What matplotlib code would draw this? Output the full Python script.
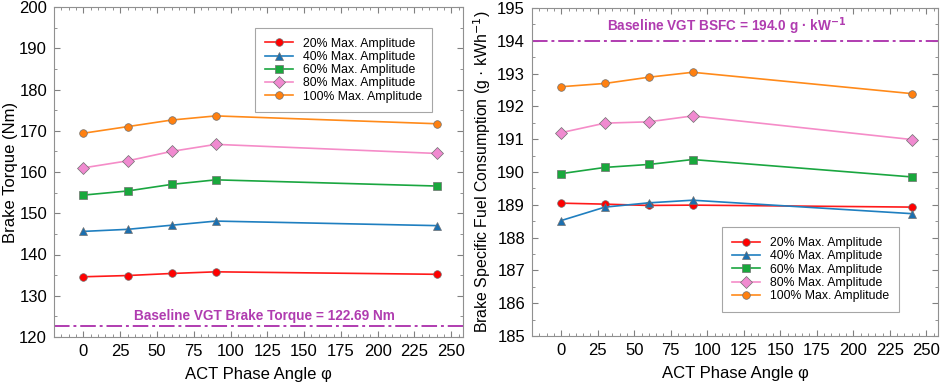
import matplotlib
matplotlib.use('Agg')
import matplotlib.pyplot as plt
from matplotlib.ticker import MultipleLocator

plt.rcParams['font.family'] = ['Liberation Sans', 'DejaVu Sans']

# data
phase = [0, 30, 60, 90, 240]
labels = ['20% Max. Amplitude', '40% Max. Amplitude', '60% Max. Amplitude',
          '80% Max. Amplitude', '100% Max. Amplitude']
torque_20 = [134.6, 134.9, 135.4, 135.8, 135.2]
torque_40 = [145.6, 146.1, 147.1, 148.1, 147.0]
torque_60 = [154.4, 155.4, 157.0, 158.1, 156.6]
torque_80 = [161.0, 162.7, 165.0, 166.7, 164.5]
torque_100 = [169.4, 171.0, 172.6, 173.6, 171.7]
bsfc_20 = [189.05, 189.02, 188.98, 188.99, 188.93]
bsfc_40 = [188.52, 188.93, 189.06, 189.14, 188.73]
bsfc_60 = [189.95, 190.14, 190.23, 190.38, 189.85]
bsfc_80 = [191.20, 191.49, 191.53, 191.71, 190.99]
bsfc_100 = [192.60, 192.70, 192.89, 193.04, 192.39]
baseline_torque = 122.69
baseline_bsfc = 194.0

colors = ['#ff1a1a', '#1f7fc0', '#1aa640', '#f58cc8', '#ff8a1a']
mfaces = ['#ff0000', '#1a6fb0', '#19a83c', '#f08ad0', '#ff8010']
markers = ['o', '^', 's', 'D', 'o']
msizes = [5.5, 5.5, 5.5, 6.5, 5.5]
purple = '#b03cb0'


def style_axes(ax):
    ax.xaxis.set_major_locator(MultipleLocator(25))
    ax.xaxis.set_minor_locator(MultipleLocator(5))
    ax.tick_params(which='both', direction='in', top=True, right=True,
                   color='#808080', labelsize=12)
    ax.tick_params(which='major', length=4, pad=5)
    ax.tick_params(which='minor', length=2)
    for s in ax.spines.values():
        s.set_color('#909090')
    ax.set_xlim(-20, 258)
    ax.set_xlabel('ACT Phase Angle φ', fontsize=12, labelpad=6)


def plot_series(ax, series):
    for y, lab, c, fc, m, ms in zip(series, labels, colors, mfaces, markers, msizes):
        ax.plot(phase, y, color=c, marker=m, markersize=ms, markerfacecolor=fc,
                markeredgecolor='#707070', markeredgewidth=0.5, lw=1.2, label=lab)


def add_legend(ax, loc, anchor):
    leg = ax.legend(loc=loc, bbox_to_anchor=anchor, fontsize=8.8,
                    fancybox=False, edgecolor='#909090', handlelength=2.3,
                    labelspacing=0.1, borderpad=0.8)
    leg.get_frame().set_linewidth(0.8)


fig = plt.figure(figsize=(9.41, 3.84), dpi=100)
ax1 = fig.add_axes([54 / 941, 47 / 384, 409 / 941, 330 / 384])
ax2 = fig.add_axes([532 / 941, 48 / 384, 406 / 941, 328 / 384])

plot_series(ax1, [torque_20, torque_40, torque_60, torque_80, torque_100])
ax1.axhline(baseline_torque, color=purple, ls=(0, (8, 2, 1.5, 2)), lw=1.4)
ax1.text(123, 123.5, 'Baseline VGT Brake Torque = 122.69 Nm', color=purple,
         fontsize=9.8, fontweight='bold', ha='center', va='bottom')
ax1.set_ylim(120, 200)
ax1.yaxis.set_major_locator(MultipleLocator(10))
ax1.yaxis.set_minor_locator(MultipleLocator(5))
ax1.set_ylabel('Brake Torque (Nm)', fontsize=12, labelpad=1)
style_axes(ax1)
add_legend(ax1, 'upper right', (0.939, 0.955))

plot_series(ax2, [bsfc_20, bsfc_40, bsfc_60, bsfc_80, bsfc_100])
ax2.axhline(baseline_bsfc, color=purple, ls=(0, (8, 2, 1.5, 2)), lw=1.4)
ax2.text(113, 194.12, 'Baseline VGT BSFC = 194.0 g · kW$^{\\mathbf{-1}}$', color=purple,
         fontsize=9.8, fontweight='bold', ha='center', va='bottom')
ax2.set_ylim(185, 195)
ax2.yaxis.set_major_locator(MultipleLocator(1))
ax2.yaxis.set_minor_locator(MultipleLocator(0.5))
ax2.set_ylabel('Brake Specific Fuel Consumption (g · kWh$^{-1}$)', fontsize=11.4, labelpad=3)
style_axes(ax2)
add_legend(ax2, 'lower right', (0.919, 0.055))

fig.savefig('out.png', dpi=100)
